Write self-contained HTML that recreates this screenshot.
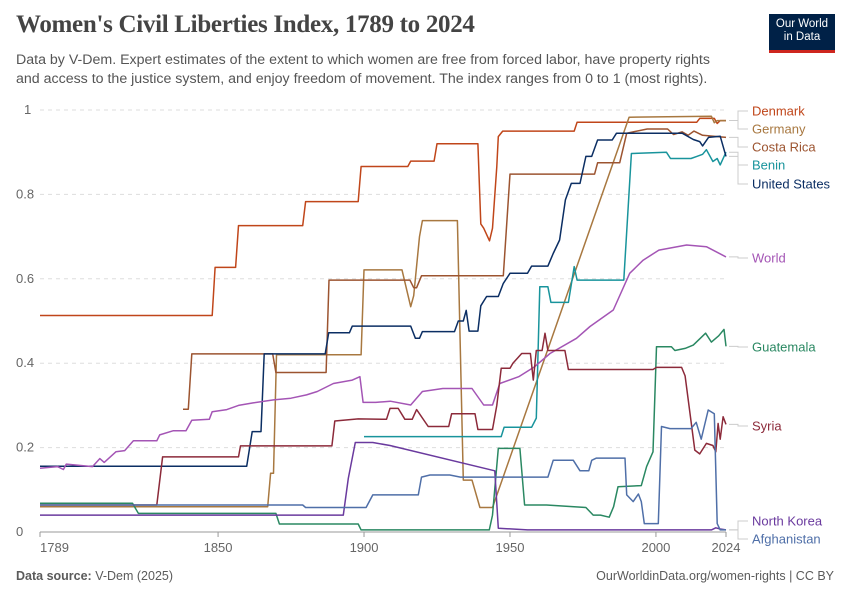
<!DOCTYPE html>
<html><head><meta charset="utf-8">
<style>
body{margin:0;background:#fff;font-family:"Liberation Sans",sans-serif;}
#wrap{position:relative;width:850px;height:600px;overflow:hidden;}
h1{position:absolute;left:16px;top:11px;margin:0;font-family:"Liberation Serif",serif;font-size:25px;font-weight:bold;color:#444;letter-spacing:-0.3px}
.sub{position:absolute;left:16px;top:51px;width:760px;font-size:14.2px;line-height:19px;color:#555}
.logo{position:absolute;left:769px;top:14px;width:66px;height:39px;background:#002147;color:#fff;font-size:11.5px;line-height:13px;text-align:center;padding-top:4px;box-sizing:border-box;border-bottom:3px solid #ce261e}
.foot{position:absolute;top:569px;font-size:12.5px;color:#5b5b5b}
</style></head><body>
<div id="wrap">
<h1>Women's Civil Liberties Index, 1789 to 2024</h1>
<div class="sub">Data by V-Dem. Expert estimates of the extent to which women are free from forced labor, have property rights<br>and access to the justice system, and enjoy freedom of movement. The index ranges from 0 to 1 (most rights).</div>
<div class="logo">Our World<br>in Data</div>
<svg id="plot" width="850" height="600" style="position:absolute;left:0;top:0"></svg>
<div class="foot" style="left:16px"><b>Data source:</b> V-Dem (2025)</div>
<div class="foot" style="right:16px">OurWorldinData.org/women-rights | CC BY</div>
</div>
<script>
const yTicks=[0,0.2,0.4,0.6,0.8,1];
const yTickLabels=["0","0.2","0.4","0.6","0.8","1"];
const xTicks=[1789,1850,1900,1950,2000,2024];
const denmark=[[1789,.513],[1848,.513],[1849,.627],[1856,.627],[1857,.726],[1879,.726],[1880,.783],[1898,.783],[1899,.866],[1915,.866],[1916,.879],[1924,.879],[1925,.92],[1939,.92],[1940,.73],[1941,.72],[1943,.69],[1944,.72],[1945.5,.866],[1946,.937],[1947.5,.95],[1972,.95],[1973,.971],[2014,.971],[2015,.98],[2020,.98],[2021,.968],[2022,.975],[2024,.975]];
const germany=[[1789,.06],[1867,.06],[1868,.139],[1869,.139],[1870,.42],[1899,.42],[1900,.621],[1913,.621],[1916,.534],[1917,.56],[1919,.7],[1920,.738],[1932,.738],[1934,.123],[1937,.123],[1939.7,.058],[1944,.058],[1990.8,.983],[2019,.985],[2020,.97],[2021,.975],[2024,.975]];
const costaRica=[[1838,.291],[1839.8,.291],[1841,.422],[1868.7,.422],[1869.8,.378],[1887,.378],[1888,.597],[1915.7,.597],[1917,.579],[1918,.579],[1919.7,.607],[1947.7,.607],[1950,.848],[1979,.848],[1980,.875],[1987.6,.875],[1990,.945],[1997,.955],[2004,.955],[2006,.942],[2009,.948],[2011,.94],[2013,.95],[2016,.94],[2024,.935]];
const benin=[[1900,.226],[1947,.226],[1948,.248],[1957.4,.248],[1959,.27],[1960.2,.581],[1963,.581],[1964,.544],[1970,.544],[1972,.629],[1973,.597],[1989,.597],[1991.6,.897],[2003.6,.9],[2005,.885],[2012,.885],[2014,.89],[2016,.895],[2017.3,.906],[2019.5,.878],[2021,.885],[2022,.87],[2024,.9]];
const unitedStates=[[1789,.156],[1859.8,.156],[1861.7,.238],[1864.7,.238],[1865.8,.422],[1886.7,.422],[1887.9,.472],[1895,.472],[1896,.488],[1916,.488],[1917.6,.459],[1919,.459],[1920,.475],[1931,.475],[1932.3,.5],[1934,.5],[1935,.525],[1936,.476],[1939,.476],[1940,.536],[1942,.558],[1946,.558],[1947.7,.589],[1950,.613],[1956,.613],[1957.4,.63],[1963,.63],[1964.8,.66],[1967,.692],[1969,.787],[1971,.826],[1974,.826],[1976,.89],[1978,.89],[1980,.929],[1985,.929],[1986.5,.945],[2009,.945],[2012.8,.93],[2015,.925],[2016,.915],[2018,.935],[2022,.938],[2024,.89]];
const world=[[1789,.151],[1795,.155],[1797,.148],[1798,.161],[1807,.155],[1809.5,.174],[1811,.165],[1815,.19],[1818,.193],[1821,.216],[1829,.216],[1830,.23],[1834.7,.24],[1839,.24],[1841,.265],[1847,.267],[1848,.285],[1853,.29],[1857,.3],[1862,.306],[1869,.313],[1875,.317],[1880.3,.325],[1884,.333],[1889.5,.352],[1896,.36],[1898.6,.368],[1899.7,.307],[1904,.307],[1909,.31],[1916,.301],[1920,.333],[1927,.34],[1937,.34],[1941,.301],[1944,.301],[1946.5,.352],[1953,.368],[1958.5,.392],[1963.7,.423],[1972.8,.459],[1977.4,.487],[1985.4,.526],[1991,.613],[1995.6,.644],[2001,.668],[2010.5,.68],[2017.3,.676],[2024,.652]];
const guatemala=[[1789,.068],[1820.7,.068],[1822.7,.044],[1869.8,.044],[1871,.019],[1898,.019],[1899,.005],[1942.9,.005],[1944,.04],[1946,.198],[1953.4,.198],[1955,.064],[1962.5,.064],[1976,.058],[1978.5,.04],[1981,.04],[1984,.035],[1985.5,.06],[1987,.107],[1995,.11],[1996.8,.155],[1999,.19],[2000.2,.439],[2005.3,.439],[2006.5,.43],[2010,.435],[2012.8,.443],[2017,.471],[2019,.45],[2021.5,.465],[2023.3,.48],[2024,.44]];
const syria=[[1789,.064],[1829,.064],[1831,.178],[1857,.178],[1857.7,.204],[1889,.204],[1890,.263],[1898,.268],[1907.7,.267],[1908.9,.293],[1911.7,.293],[1914,.267],[1916.5,.267],[1918,.29],[1922,.25],[1929,.25],[1930,.28],[1938,.28],[1939,.243],[1944,.243],[1945.5,.3],[1947,.388],[1950,.388],[1951,.4],[1954,.423],[1957,.423],[1958,.36],[1959,.43],[1961,.43],[1962,.471],[1963,.43],[1968.8,.43],[1970,.385],[1999,.385],[2000.2,.39],[2008.8,.39],[2010,.37],[2013.3,.194],[2015,.185],[2017.3,.21],[2019.5,.205],[2020.5,.19],[2021.3,.257],[2022,.22],[2023,.273],[2024,.255]];
const northKorea=[[1789,.04],[1892.9,.04],[1894.6,.127],[1897,.212],[1903,.212],[1908.9,.205],[1944.8,.145],[1946,.009],[1956,.005],[2019,.005],[2020.5,.01],[2022,.007],[2024,.005]];
const afghanistan=[[1789,.064],[1879,.064],[1880,.058],[1900.7,.058],[1903,.088],[1918.6,.088],[1919.7,.13],[1922.6,.135],[1929.4,.135],[1933,.13],[1963,.13],[1964.8,.17],[1971.7,.17],[1974,.145],[1977,.145],[1978,.17],[1979.6,.175],[1989.4,.175],[1990,.088],[1992.2,.072],[1994,.09],[1995,.072],[1996,.02],[2000.8,.02],[2001.9,.25],[2004.8,.245],[2012,.245],[2013.8,.26],[2015.5,.22],[2017.9,.289],[2020,.28],[2021,.02],[2022,.005],[2024,.005]];
const seriesNames=["Denmark","Germany","Costa Rica","Benin","United States","World","Guatemala","Syria","North Korea","Afghanistan"];
const seriesData=[denmark,germany,costaRica,benin,unitedStates,world,guatemala,syria,northKorea,afghanistan];
const seriesColors=["#c0461a","#a87840","#9c5430","#18949c","#0b2e63","#a455b5","#2a8862","#8c2a3a","#6a3a9e","#4f6fa8"];
const labelY=[111,129,147,165,184,258,347,426,521,539];

const NS="http://www.w3.org/2000/svg";
const svg=document.getElementById('plot');
const X0=40,X1=726,Y0=532,Y1=110;
function x(yr){return X0+(yr-1789)/(2024-1789)*(X1-X0);}
function y(v){return Y0-v*(Y0-Y1);}
function mk(tag,attrs){const e=document.createElementNS(NS,tag);for(const k in attrs)e.setAttribute(k,attrs[k]);svg.appendChild(e);return e;}
yTicks.forEach((t,i)=>{
  if(t>0){const g=mk('line',{x1:X0,x2:X1,y1:y(t),y2:y(t),stroke:'#ddd','stroke-dasharray':'4,4'});
  
  }
  const tx=mk('text',{x:t===1?24:16,y:y(t)+4,'font-size':13,fill:'#666','font-family':'Liberation Sans, sans-serif'});
  tx.textContent=yTickLabels[i];
  
  
});
const ax=mk('line',{x1:X0,x2:X1,y1:Y0,y2:Y0,stroke:'#999'});


xTicks.forEach(t=>{
  const tk=mk('line',{x1:x(t),x2:x(t),y1:Y0,y2:Y0+5,stroke:'#999'});
  
  
  const anchor=t===1789?'start':'middle';
  const tx=mk('text',{x:t===1789?X0:x(t),y:Y0+20,'font-size':13,fill:'#666','text-anchor':anchor,'font-family':'Liberation Sans, sans-serif'});
  tx.textContent=String(t);
  
  
});
seriesData.forEach((d,i)=>{
  const p=mk('polyline',{points:d.map(pt=>x(pt[0]).toFixed(1)+','+y(pt[1]).toFixed(1)).join(' '),fill:'none',stroke:seriesColors[i],'stroke-width':1.5,'stroke-linejoin':'round'});
  
  
  const last=d[d.length-1];
  const ey=y(last[1]),ly=labelY[i];
  const c=mk('polyline',{points:`${X1+3},${ey} ${X1+12},${ey} ${X1+12},${ly} ${X1+22},${ly}`,fill:'none',stroke:'#ccc','stroke-width':1});
  
  
  const tx=mk('text',{x:752,y:ly+4.5,'font-size':13,fill:seriesColors[i],'font-family':'Liberation Sans, sans-serif'});
  tx.textContent=seriesNames[i];
  
  
});
</script>
</body></html>
